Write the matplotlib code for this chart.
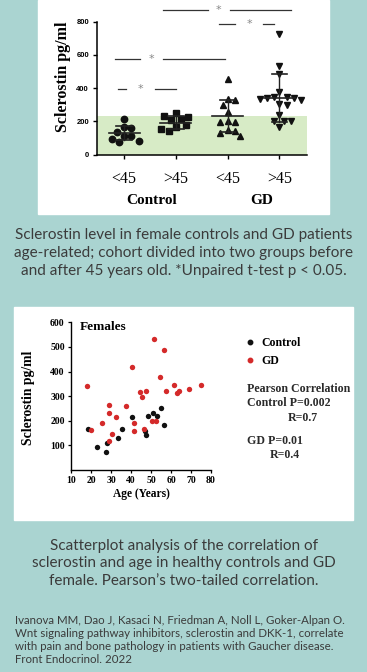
#!/usr/bin/env python3
"""
Sclerostin in female controls and GD patients: age groups (top) and
sclerostin vs age scatter (bottom), laid out as a single info card.
"""

import matplotlib
matplotlib.use("Agg")
import matplotlib.pyplot as plt
from matplotlib.patches import Rectangle
from matplotlib.lines import Line2D
import numpy as np

W, H = 367, 672
BG = "#aad4d1"
GREEN = "#d7ebc6"
RED = "#d42a2a"
TXT = "#3b3b3b"
SERIF = ["Liberation Serif", "DejaVu Serif"]
CAPTION = ["Lato", "DejaVu Sans"]
NARROW = ["Liberation Sans Narrow", "Lato", "DejaVu Sans"]

# --- top panel: sclerostin (pg/ml) by age group ---
group_labels = ["<45", ">45", "<45", ">45"]
group_names = ["Control", "GD"]
ctrl_young = [212, 165, 160, 135, 112, 115, 95, 75, 85]
ctrl_old = [249, 214, 210, 228, 233, 168, 180, 140, 153]
gd_young = [453, 333, 328, 298, 258, 205, 198, 195, 150, 145, 132, 112]
gd_old = [724, 534, 485, 379, 350, 345, 343, 340, 335, 330, 305, 300,
          240, 205, 205, 200, 165]
group_mean = [128, 193, 232, 342]
group_sd = [42, 40, 97, 143]
normal_max = 230

# significance lines: level, (left end, gap start, gap end, right end)
sig_levels = [395, 573, 786, 870]
sig_spans = [(-0.12, 0.03, 0.59, 1.0), (-0.18, 0.30, 0.75, 1.95),
             (1.83, 2.14, 2.69, 2.90), (0.75, 1.62, 2.04, 3.22)]

# --- bottom panel: sclerostin vs age ---
ctrl_age = [18.7, 23.2, 27.5, 28.2, 33.3, 35.3, 40.3, 47.0, 47.5, 48.7,
            50.8, 52.8, 54.8, 56.7]
ctrl_scl = [165, 93, 73, 111, 129, 167, 214, 157, 140, 218, 230, 219, 253, 182]
gd_age = [18.2, 20.0, 25.3, 29.2, 29.2, 30.3, 29.2, 32.3, 37.5, 40.3, 41.5,
          41.5, 44.7, 45.3, 47.3, 46.5, 51.3, 56.7, 54.7, 57.5, 50.7, 52.5,
          61.7, 63.0, 63.8, 68.8, 74.8]
gd_scl = [340, 163, 190, 264, 233, 146, 118, 214, 259, 417, 192, 158, 318,
          298, 322, 165, 532, 489, 377, 320, 199, 199, 345, 312, 322, 330, 345]
stats_lines = ["Pearson Correlation", "Control P=0.002", "R=0.7",
               "GD P=0.01", "R=0.4"]

caption_top = ("Sclerostin level in female controls and GD patients\n"
               "age-related; cohort divided into two groups before\n"
               "and after 45 years old. *Unpaired t-test p < 0.05.")
caption_bottom = ("Scatterplot analysis of the correlation of\n"
                  "sclerostin and age in healthy controls and GD\n"
                  "female. Pearson\u2019s two-tailed correlation.")
citation = ("Ivanova MM, Dao J, Kasaci N, Friedman A, Noll L, Goker-Alpan O.\n"
            "Wnt signaling pathway inhibitors, sclerostin and DKK-1, correlate\n"
            "with pain and bone pathology in patients with Gaucher disease.\n"
            "Front Endocrinol. 2022")


def fx(px):
    return px / W


def fy(py):
    return 1 - py / H


def swarm(values, px_x, px_y, diam):
    """Deterministic beeswarm offsets (data units) so markers don't overlap."""
    placed = []
    offsets = []
    step = diam / 3
    for v in values:
        y = v * px_y
        k = 0
        while True:
            cands = [0.0] if k == 0 else [k * step, -k * step]
            hit = None
            for x in cands:
                if all((x - a) ** 2 + (y - b) ** 2 >= diam ** 2 for a, b in placed):
                    hit = x
                    break
            if hit is not None:
                placed.append((hit, y))
                offsets.append(hit / px_x)
                break
            k += 1
    return offsets


fig = plt.figure(figsize=(W / 100, H / 100), dpi=100, facecolor=BG)

# white cards behind each chart
fig.add_artist(Rectangle((fx(37.7), fy(214)), (329 - 37.7) / W, 214 / H,
                         transform=fig.transFigure, color="white", zorder=-5))
fig.add_artist(Rectangle((fx(14), fy(520)), (353 - 14) / W, (520 - 307) / H,
                         transform=fig.transFigure, color="white", zorder=-5))

# ---------------- top chart ----------------
ax1 = fig.add_axes([fx(96.7), fy(154.7), 210 / W, 133 / H])
ax1.set_facecolor("none")
ax1.set_xlim(-0.53, 3.53)
ax1.set_ylim(0, 800)
ax1.axhspan(0, normal_max, color=GREEN, zorder=0, lw=0)

groups = [ctrl_young, ctrl_old, gd_young, gd_old]
markers = ["o", "s", "^", "v"]
px_x = 210 / 4.06
px_y = 133 / 800
for i, (vals, mk) in enumerate(zip(groups, markers)):
    offs = swarm(vals, px_x, px_y, 7.3)
    ax1.plot(np.array(offs) + i, vals, ls="none", marker=mk, ms=4.6,
             color="#111111", zorder=3)
    m, s = group_mean[i], group_sd[i]
    ax1.plot([i - 0.3, i + 0.3], [m, m], color="#222222", lw=1.2, zorder=4)
    ax1.plot([i, i], [m - s, m + s], color="#222222", lw=1.0, zorder=4)
    for e in (m - s, m + s):
        ax1.plot([i - 0.15, i + 0.15], [e, e], color="#222222", lw=1.2, zorder=4)

for lvl, (x0, g0, g1, x1) in zip(sig_levels, sig_spans):
    ax1.plot([x0, g0], [lvl, lvl], color="#333333", lw=0.9, clip_on=False)
    ax1.plot([g1, x1], [lvl, lvl], color="#333333", lw=0.9, clip_on=False)
    ax1.text((g0 + g1) / 2, lvl, "*", ha="center", va="center", fontsize=8,
             color="#888888", clip_on=False)

for side in ("top", "right"):
    ax1.spines[side].set_visible(False)
for side in ("left", "bottom"):
    ax1.spines[side].set_linewidth(1.1)
ax1.set_yticks([0, 200, 400, 600, 800])
ax1.set_yticklabels(["0", "200", "400", "600", "800"], fontsize=5.5,
                    fontweight="bold", family="Liberation Sans")
ax1.set_xticks(range(4))
ax1.set_xticklabels(group_labels, fontsize=11.5, family=SERIF)
ax1.tick_params(axis="y", length=3, width=1.0, pad=2.5)
ax1.tick_params(axis="x", length=3, width=1.0, pad=9)
fig.text(fx(63), fy(76.7), "Sclerostin pg/ml", rotation=90, ha="center",
         va="center", fontsize=11.5, fontweight="bold", family=SERIF)
fig.text(fx(152), fy(200.7), group_names[0], ha="center", va="center",
         fontsize=11, fontweight="bold", family=SERIF)
fig.text(fx(262), fy(200.7), group_names[1], ha="center", va="center",
         fontsize=11, fontweight="bold", family=SERIF)

fig.text(0.5, fy(252.7), caption_top, ha="center", va="center", fontsize=11,
         family=CAPTION, color=TXT, linespacing=1.38)

# ---------------- scatter chart ----------------
ax2 = fig.add_axes([fx(71), fy(469.9), 140 / W, 147.6 / H])
ax2.set_facecolor("none")
ax2.set_xlim(10, 80)
ax2.set_ylim(0, 600)
ax2.scatter(ctrl_age, ctrl_scl, s=15, color="#111111", lw=0, label="Control",
            zorder=3)
ax2.scatter(gd_age, gd_scl, s=15, color=RED, lw=0, label="GD", zorder=3)
for side in ("top", "right"):
    ax2.spines[side].set_visible(False)
for side in ("left", "bottom"):
    ax2.spines[side].set_linewidth(1.0)
ax2.set_xticks(range(10, 81, 10))
ax2.set_yticks(range(100, 601, 100))
for lab in ax2.get_xticklabels() + ax2.get_yticklabels():
    lab.set_fontsize(7)
    lab.set_fontweight("bold")
    lab.set_family(SERIF)
ax2.tick_params(length=2.5, width=0.9, pad=2)
ax2.set_xlabel("Age (Years)", fontsize=8.3, fontweight="bold", family=SERIF,
               labelpad=2)
fig.text(fx(28.3), fy(397.7), "Sclerostin pg/ml", rotation=90, ha="center",
         va="center", fontsize=9.8, fontweight="bold", family=SERIF)
ax2.text(0.064, 0.97, "Females", transform=ax2.transAxes, ha="left",
         va="center", fontsize=9.5, fontweight="bold", family=SERIF)

handles = [Line2D([], [], ls="none", marker="o", ms=3.2, color="#111111"),
           Line2D([], [], ls="none", marker="o", ms=3.2, color=RED)]
fig.legend(handles, ["Control", "GD"], loc="upper left",
           bbox_to_anchor=(fx(245), fy(337)), frameon=False,
           prop={"family": SERIF, "weight": "bold", "size": 8.5},
           handlelength=0.8, handletextpad=0.6, labelspacing=0.5,
           borderpad=0, borderaxespad=0)

stat_pos = [(246.7, 388.7), (246.7, 402.7), (287.3, 417.7),
            (246.7, 440.7), (269.3, 455.3)]
for s, (x, y) in zip(stats_lines, stat_pos):
    fig.text(fx(x), fy(y), s, ha="left", va="center", fontsize=8.6,
             fontweight="bold", family=SERIF, color="#2a2a2a")

fig.text(0.5, fy(563.3), caption_bottom, ha="center", va="center",
         fontsize=11, family=CAPTION, color=TXT, linespacing=1.3)
fig.text(fx(15), fy(640), citation, ha="left", va="center", fontsize=8.3,
         family=NARROW, color=TXT, linespacing=1.22)

fig.savefig("out.png", dpi=100, facecolor=BG)
